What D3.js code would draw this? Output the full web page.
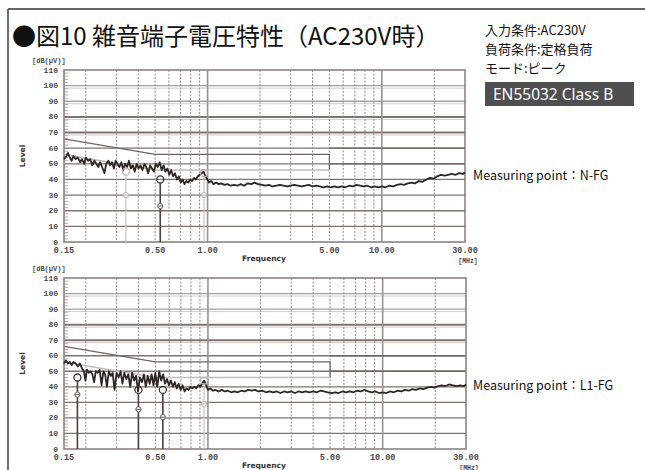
<!DOCTYPE html>
<html><head><meta charset="utf-8">
<script src="https://cdn.jsdelivr.net/npm/d3@7/dist/d3.min.js"></script>
<style>body{margin:0;background:#fff}svg{display:block}</style>
</head><body><svg id="c" width="645" height="470"></svg>
<script>
// ---- data ----
const titleText = "●図10 雑音端子電圧特性（AC230V時）";
const infoLines = ["入力条件:AC230V", "負荷条件:定格負荷", "モード:ピーク"];
const standardLabel = "EN55032 Class B";
const xTickValues = [0.15, 0.5, 1, 5, 10, 30];
const xTickLabels = ["0.15", "0.50", "1.00", "5.00", "10.00", "30.00"];
const yTickValues = [0, 10, 20, 30, 40, 50, 60, 70, 80, 90, 100, 110];
const dashedFreqs = [0.2, 0.3, 0.4, 0.5, 0.6, 0.7, 0.8, 0.9, 2, 3, 4, 5, 6, 7, 8, 9, 20];
const solidFreqs = [1, 10];

// limit lines (QP and average)
const limitQPFreq = [0.15, 0.5, 5, 5];
const limitQPLevel = [66, 56, 56, 46];
const limitQPHiFreq = [5, 30];
const limitQPHiLevel = [60, 60];
const limitAvFreq = [0.15, 0.5, 5];
const limitAvLevel = [56, 46, 46];
const limitAvHiFreq = [5, 30];
const limitAvHiLevel = [50, 50];

// N-FG trace
const nfgFreq = [0.150,0.155,0.158,0.162,0.166,0.170,0.175,0.180,0.186,0.190,0.196,0.200,0.206,0.212,0.218,0.224,0.230,0.236,0.242,0.250,0.256,0.262,0.270,0.276,0.283,0.290,0.297,0.304,0.312,0.320,0.328,0.336,0.345,0.354,0.363,0.372,0.382,0.392,0.402,0.412,0.423,0.434,0.445,0.456,0.468,0.480,0.492,0.505,0.518,0.531,0.545,0.559,0.573,0.588,0.603,0.618,0.634,0.650,0.667,0.684,0.701,0.719,0.737,0.756,0.775,0.795,0.815,0.836,0.857,0.879,0.902,0.925,0.948,0.972,0.997,1.02,1.05,1.08,1.12,1.16,1.2,1.25,1.3,1.36,1.42,1.48,1.55,1.62,1.7,1.78,1.86,1.95,2.05,2.15,2.25,2.36,2.48,2.6,2.73,2.86,3.0,3.15,3.3,3.46,3.63,3.81,4.0,4.2,4.4,4.62,4.85,5.09,5.34,5.6,5.88,6.17,6.48,6.8,7.14,7.5,7.87,8.26,8.67,9.1,9.55,10.0,10.5,11.0,11.6,12.2,12.8,13.4,14.1,14.8,15.5,16.3,17.1,18.0,18.9,19.8,20.8,21.8,22.9,24.0,25.2,26.5,27.8,29.2,30.0];
const nfgLevel = [53,55,57,54,52,55,53,54,51,53,50,54,52,53,49,52,50,48,51,47,44,50,52,49,51,47,52,50,48,51,46,50,48,52,47,49,45,50,47,49,46,50,48,44,49,47,45,50,48,51,46,49,45,47,43,46,42,44,40,42,38,40,37,39,38,40,39,41,40,42,43,44,45,42,40,38,39,37,38,37,37.5,36.5,37,36,36.5,36,37,36,37.5,37,38,37,36.5,36,36.5,35.5,36,36.5,36,35.5,36,36.5,36,35.5,36,36.5,35.5,36,35.5,35,35.5,35,35.5,35,35.5,35,36,35.5,36.5,36,35.5,36,35,35.5,35,35.5,35,36,35.5,36.5,37,36.5,37.5,38,37.5,39,38.5,40,41,40.5,42,43,42.5,43,43.5,43,44,43.5,44.5];

// L1-FG trace
const l1Freq = [0.150,0.154,0.158,0.162,0.166,0.170,0.175,0.180,0.185,0.190,0.195,0.199,0.203,0.208,0.213,0.218,0.223,0.228,0.234,0.240,0.246,0.252,0.258,0.264,0.271,0.278,0.285,0.292,0.300,0.308,0.316,0.324,0.332,0.341,0.350,0.359,0.368,0.378,0.388,0.398,0.408,0.419,0.430,0.441,0.452,0.464,0.476,0.488,0.500,0.513,0.526,0.540,0.554,0.568,0.583,0.598,0.614,0.630,0.646,0.663,0.680,0.698,0.716,0.735,0.754,0.774,0.794,0.815,0.836,0.858,0.880,0.903,0.927,0.951,0.976,1.00,1.03,1.07,1.11,1.15,1.2,1.25,1.3,1.36,1.42,1.48,1.55,1.62,1.7,1.78,1.86,1.95,2.05,2.15,2.25,2.36,2.48,2.6,2.73,2.86,3.0,3.15,3.3,3.46,3.63,3.81,4.0,4.2,4.4,4.62,4.85,5.09,5.34,5.6,5.88,6.17,6.48,6.8,7.14,7.5,7.87,8.26,8.67,9.1,9.55,10.0,10.5,11.0,11.6,12.2,12.8,13.4,14.1,14.8,15.5,16.3,17.1,18.0,18.9,19.8,20.8,21.8,22.9,24.0,25.2,26.5,27.8,29.2,30.0];
const l1Level = [55,57,55,56,54,56,55,53,55,52,50,44,51,49,50,48,43,50,49,51,41,50,48,40,50,47,49,38,49,46,50,42,49,45,48,40,49,44,47,37,46,43,48,40,47,42,48,41,49,40,50,44,48,42,45,41,44,40,43,39,42,38,41,37,39,38,40,39,40,39,41,40,42,44,41,38,39,37.5,38,37,38,37,37.5,36.5,37,36.5,37.5,37,38,37.5,38,37,37.5,36.5,37,36.5,37,36,37,36.5,37,36,37,36.5,37,36.5,37,36.5,37.5,37,36.5,36,36.5,36,37,36.5,37,36.5,37.5,37,38,37,36.5,37,36,36.5,36,37,36.5,37.5,37,38,37.5,38.5,38,39,38.5,39.5,40,39.5,40.5,41,40.5,41.5,41,40.5,41,40.5,41.5];

// measured markers: frequency, QP level, average level, emphasis
const nfgMarkFreq = [0.34, 0.535, 0.955];
const nfgMarkQP = [45, 40, 44];
const nfgMarkAv = [30, 23, 30];
const nfgMarkDark = [false, true, false];
const l1MarkFreq = [0.179, 0.40, 0.552, 0.95];
const l1MarkQP = [46, 38, 38, 44];
const l1MarkAv = [35, 25.5, 20.5, 29];
const l1MarkDark = [true, true, true, false];

// ---- drawing ----
const svg = d3.select("#c");
const tickFont = "'Liberation Mono', 'DejaVu Sans Mono', monospace";
const jpFont = "'Noto Sans CJK JP', 'Noto Sans', sans-serif";

// page frame
svg.append("line").attr("x1", 8).attr("x2", 645).attr("y1", 9).attr("y2", 9).attr("stroke", "#333").attr("stroke-width", 1.4);
svg.append("line").attr("x1", 8).attr("x2", 8).attr("y1", 9).attr("y2", 470).attr("stroke", "#333").attr("stroke-width", 1.4);

svg.append("text").attr("x", 12).attr("y", 45).attr("font-family", jpFont)
  .attr("font-size", 24).attr("fill", "#111").text(titleText);

svg.selectAll("text.info").data(infoLines).join("text").attr("class", "info")
  .attr("x", 485).attr("y", (d, i) => 35 + i * 19).attr("font-family", jpFont)
  .attr("font-size", 13).attr("fill", "#111").text(d => d);

svg.append("rect").attr("x", 485).attr("y", 82).attr("width", 149).attr("height", 24).attr("fill", "#4f4f4f");
svg.append("text").attr("x", 493).attr("y", 100).attr("font-family", "'Noto Sans', 'Open Sans', sans-serif")
  .attr("font-size", 15.5).attr("fill", "#fff").text(standardLabel);

function chart(cfg) {
  const x = d3.scaleLog().domain([0.15, 30]).range([64, cfg.xr]);
  const y = d3.scaleLinear().domain([0, 110]).range([cfg.y0, cfg.y110]);
  const g = svg.append("g");
  const xl = x.range()[0], xr = x.range()[1];

  // horizontal gridlines
  const hg = [10, 20, 30, 40, 50, 60, 70, 80, 90, 100];
  g.selectAll("line.hg").data(hg).join("line")
    .attr("x1", xl).attr("x2", xr).attr("y1", d => y(d)).attr("y2", d => y(d))
    .attr("stroke", d => d >= 90 ? "#a9a09b" : "#7f7470")
    .attr("stroke-width", d => (d === 70 || d === 80) ? 2 : 1.3);
  // light double lines
  g.selectAll("line.hg2").data([100, 90, 80, 70]).join("line")
    .attr("x1", xl).attr("x2", xr).attr("y1", d => y(d) + 2.5).attr("y2", d => y(d) + 2.5)
    .attr("stroke", "#d2ccc9").attr("stroke-width", 1);

  // vertical gridlines
  g.selectAll("line.vd").data(dashedFreqs).join("line")
    .attr("x1", d => x(d)).attr("x2", d => x(d)).attr("y1", y(110)).attr("y2", y(0))
    .attr("stroke", "#8f8a88").attr("stroke-width", 1).attr("stroke-dasharray", "2,1.5");
  g.selectAll("line.vs").data(solidFreqs).join("line")
    .attr("x1", d => x(d)).attr("x2", d => x(d)).attr("y1", y(110)).attr("y2", y(0))
    .attr("stroke", "#9a918d").attr("stroke-width", 1.6);

  // minor ticks on y axis
  const minor = d3.range(2, 110, 2).filter(v => v % 10 !== 0);
  g.selectAll("line.mt").data(minor).join("line")
    .attr("x1", xl).attr("x2", xl + 4).attr("y1", d => y(d)).attr("y2", d => y(d))
    .attr("stroke", "#a39a96").attr("stroke-width", 0.8);

  // limit lines
  const ln = d3.line().x(d => x(d[0])).y(d => y(d[1]));
  const limits = [
    [limitQPFreq, limitQPLevel, "#6e6461", 1.2],
    [limitAvFreq, limitAvLevel, "#c3bcb9", 1.6],
    [limitQPHiFreq, limitQPHiLevel, "#6e6461", 1.3],
    [limitAvHiFreq, limitAvHiLevel, "#6e6461", 1.3]
  ];
  limits.forEach(([f, v, c, w]) => {
    g.append("path").datum(f.map((d, i) => [d, v[i]])).attr("d", ln)
      .attr("fill", "none").attr("stroke", c).attr("stroke-width", w);
  });

  // frame
  g.append("rect").attr("x", xl).attr("y", y(110)).attr("width", xr - xl).attr("height", y(0) - y(110))
    .attr("fill", "none").attr("stroke", "#8c8380").attr("stroke-width", 1.6);

  // markers stems
  const marks = cfg.mf.map((f, i) => ({f, qp: cfg.mq[i], av: cfg.ma[i], dark: cfg.md[i]}));
  g.selectAll("line.stem").data(marks).join("line")
    .attr("x1", d => x(d.f)).attr("x2", d => x(d.f)).attr("y1", y(0)).attr("y2", d => y(d.qp) + 3.5)
    .attr("stroke", d => d.dark ? "#4a403d" : "#c8c2bf").attr("stroke-width", d => d.dark ? 1.6 : 1.2);

  // trace
  const pts = cfg.tf.map((f, i) => [f, cfg.tl[i]]);
  g.append("path").datum(pts).attr("d", ln).attr("fill", "none")
    .attr("stroke", "#2e2624").attr("stroke-width", 1.8).attr("stroke-linejoin", "round");

  // marker symbols
  g.selectAll("circle.qp").data(marks).join("circle")
    .attr("cx", d => x(d.f)).attr("cy", d => y(d.qp)).attr("r", 3.5)
    .attr("fill", "none").attr("stroke", d => d.dark ? "#3b3230" : "#b8b1ae").attr("stroke-width", 1.3);
  g.selectAll("circle.av").data(marks).join("circle")
    .attr("cx", d => x(d.f)).attr("cy", d => y(d.av)).attr("r", 2.6)
    .attr("fill", "#fff").attr("stroke", d => d.dark ? "#6a605d" : "#b8b1ae").attr("stroke-width", 1);
  g.selectAll("line.av").data(marks).join("line")
    .attr("x1", d => x(d.f) - 2.6).attr("x2", d => x(d.f) + 2.6).attr("y1", d => y(d.av)).attr("y2", d => y(d.av))
    .attr("stroke", d => d.dark ? "#6a605d" : "#b8b1ae").attr("stroke-width", 1);

  // y tick labels
  g.selectAll("text.yt").data(yTickValues).join("text")
    .attr("x", 58).attr("y", d => y(d) + 2.5).attr("text-anchor", "end")
    .attr("font-family", tickFont).attr("font-weight", "bold").attr("font-size", 8)
    .attr("fill", "#4a4a4a").text(d => d);
  // x tick labels
  g.selectAll("text.xt").data(xTickValues).join("text")
    .attr("x", d => x(d)).attr("y", y(0) + 11).attr("text-anchor", "middle")
    .attr("font-family", tickFont).attr("font-weight", "bold").attr("font-size", 8.5)
    .attr("fill", "#4a4a4a").text((d, i) => xTickLabels[i]);

  g.append("text").attr("x", 32).attr("y", y(110) - 7).attr("font-family", tickFont)
    .attr("font-weight", "bold").attr("font-size", 7).attr("fill", "#4a4a4a").text("[dB(μV)]");
  g.append("text").attr("transform", `translate(25,${y(55)}) rotate(-90)`).attr("text-anchor", "middle")
    .attr("font-family", "'DejaVu Sans', sans-serif").attr("font-weight", "bold").attr("font-size", 7.5)
    .attr("fill", "#333").text("Level");
  g.append("text").attr("x", 264).attr("y", y(0) + 19).attr("text-anchor", "middle")
    .attr("font-family", "'DejaVu Sans', sans-serif").attr("font-weight", "bold").attr("font-size", 7.5)
    .attr("fill", "#333").text("Frequency");
  g.append("text").attr("x", xr + 3).attr("y", y(0) + 20.5).attr("text-anchor", "middle")
    .attr("font-family", tickFont).attr("font-weight", "bold").attr("font-size", 6.5)
    .attr("fill", "#4a4a4a").text("[MHz]");

  svg.append("text").attr("x", 473).attr("y", cfg.labelY).attr("font-family", jpFont)
    .attr("font-size", 12.5).attr("fill", "#111").text(cfg.label);
}

chart({y0: 242, y110: 70, xr: 465, tf: nfgFreq, tl: nfgLevel,
  mf: nfgMarkFreq, mq: nfgMarkQP, ma: nfgMarkAv, md: nfgMarkDark,
  label: "Measuring point：N-FG", labelY: 180});
chart({y0: 449, y110: 278, xr: 466, tf: l1Freq, tl: l1Level,
  mf: l1MarkFreq, mq: l1MarkQP, ma: l1MarkAv, md: l1MarkDark,
  label: "Measuring point：L1-FG", labelY: 390});
</script>
</body></html>
